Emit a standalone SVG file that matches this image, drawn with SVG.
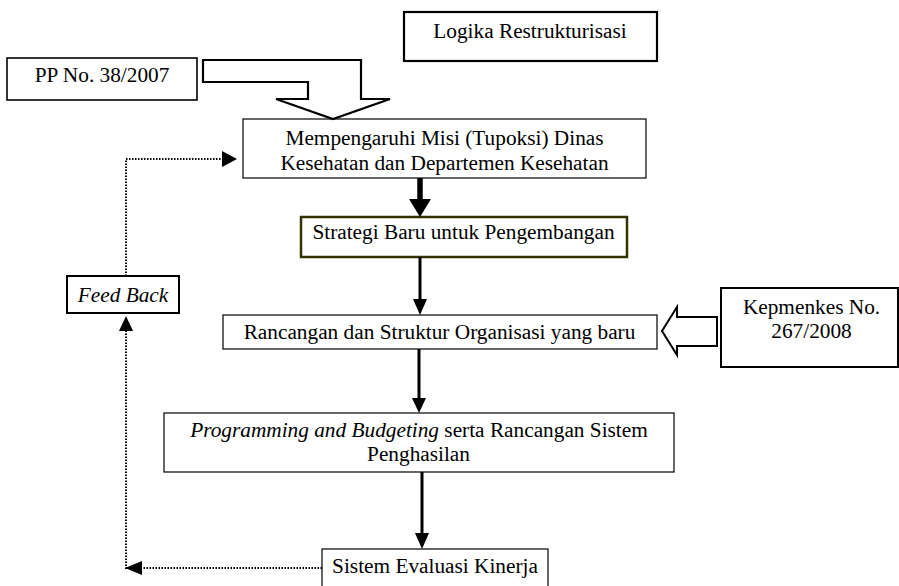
<svg xmlns="http://www.w3.org/2000/svg" width="899" height="586" viewBox="0 0 899 586">
<style>
text{font-family:"Liberation Serif","Times New Roman",serif;font-size:21.3px;fill:#000;text-anchor:middle}
.box{fill:#fff;stroke:#000;stroke-width:1.2}
.thick{fill:#fff;stroke:#000;stroke-width:2.2}
.dot{fill:none;stroke:#000;stroke-width:2;stroke-dasharray:1.5 1.5}
.ln{stroke:#000;stroke-width:3;fill:none}
.head{fill:#000;stroke:none}
</style>
<rect width="899" height="586" fill="#fff"/>
<g id="logika">
<rect class="thick" x="404" y="12" width="253" height="49"/>
<text x="530" y="38">Logika Restrukturisasi</text>
</g>
<g id="pp">
<rect class="thick" x="7" y="58" width="190" height="42" style="stroke-width:1.6"/>
<text x="102" y="82">PP No. 38/2007</text>
</g>
<g id="mempengaruhi">
<rect class="box" x="243" y="119" width="403" height="59"/>
<text x="444.5" y="145">Mempengaruhi Misi (Tupoksi) Dinas</text>
<text x="444.5" y="170">Kesehatan dan Departemen Kesehatan</text>
</g>
<g id="strategi">
<rect x="301" y="217" width="326" height="40" fill="#fff" stroke="#333300" stroke-width="2.5"/>
<text x="463.5" y="239">Strategi Baru untuk Pengembangan</text>
</g>
<g id="rancangan">
<rect class="box" x="223" y="315" width="434" height="34"/>
<text x="439.5" y="339">Rancangan dan Struktur Organisasi yang baru</text>
</g>
<g id="kepmenkes">
<rect class="thick" x="721" y="288" width="177" height="79" style="stroke-width:2"/>
<text x="811.5" y="314">Kepmenkes No.</text>
<text x="811.5" y="338">267/2008</text>
</g>
<g id="programming">
<rect class="box" x="164" y="413" width="510" height="59"/>
<text x="419" y="437"><tspan font-style="italic">Programming and Budgeting</tspan> serta Rancangan Sistem</text>
<text x="418.5" y="461">Penghasilan</text>
</g>
<g id="sistem">
<rect class="box" x="322" y="549" width="226" height="45"/>
<text x="435" y="573">Sistem Evaluasi Kinerja</text>
</g>
<g id="feedback">
<rect class="thick" x="67" y="276" width="112" height="37" style="stroke-width:2"/>
<text x="123" y="302" font-style="italic">Feed Back</text>
</g>
<g id="connectors">
<polygon points="203,60 361,60 361,99 390,99 333,119 276,99 308,99 308,82 203,82" fill="#fff" stroke="#000" stroke-width="2.2"/>
<line x1="420" y1="178" x2="420" y2="200" stroke="#000" stroke-width="5.5"/>
<polygon class="head" points="409,199 431,199 420,217"/>
<line class="ln" x1="420" y1="257" x2="420" y2="300"/>
<polygon class="head" points="413,299 427,299 420,315"/>
<polygon points="662,331 677,307 677,317 717,317 717,346 677,346 677,355" fill="#fff" stroke="#000" stroke-width="2"/>
<line class="ln" x1="419" y1="349" x2="419" y2="399"/>
<polygon class="head" points="412,398 426,398 419,413"/>
<line class="ln" x1="422" y1="472" x2="422" y2="534"/>
<polygon class="head" points="415,533 429,533 422,549"/>
<polyline class="dot" points="322,568 126,568 126,331"/>
<polygon class="head" points="142,561 142,575 125,568"/>
<polygon class="head" points="119,331 133,331 126,316"/>
<polyline class="dot" points="126,276 126,159 223,159"/>
<polygon class="head" points="222,151 222,167 237,159"/>
</g>
</svg>
